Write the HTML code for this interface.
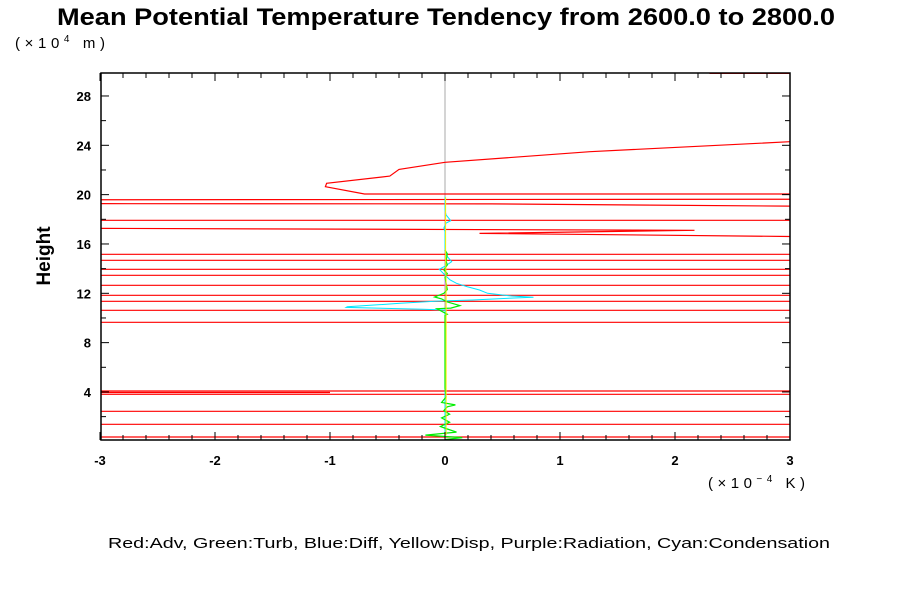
<!DOCTYPE html>
<html><head><meta charset="utf-8"><style>
html,body{margin:0;padding:0;background:#fff;}
svg{display:block;font-family:"Liberation Sans",sans-serif;}
</style></head><body>
<svg id="chart" width="900" height="600" viewBox="0 0 900 600">
<text x="446" y="25" text-anchor="middle" font-size="24" font-weight="bold" textLength="778" lengthAdjust="spacingAndGlyphs">Mean Potential Temperature Tendency from 2600.0 to 2800.0</text>
<text x="15" y="48" font-size="15" textLength="90">(×10<tspan dy="-6" font-size="10">4</tspan><tspan dy="6"> m)</tspan></text>
<text x="708" y="488" font-size="15" textLength="97">(×10<tspan dy="-6" font-size="10">−4</tspan><tspan dy="6"> K)</tspan></text>
<text transform="translate(50,256) rotate(-90)" text-anchor="middle" font-size="19" font-weight="bold">Height</text>
<text x="469" y="548" text-anchor="middle" font-size="15" textLength="722" lengthAdjust="spacingAndGlyphs">Red:Adv, Green:Turb, Blue:Diff, Yellow:Disp, Purple:Radiation, Cyan:Condensation</text>
<defs><clipPath id="plotclip"><rect x="101" y="72" width="689" height="368"/></clipPath></defs>
<g id="series" clip-path="url(#plotclip)"></g>
<g id="axes"></g>
</svg>
<script>
const xTicks = [-3,-2,-1,0,1,2,3];
const yTicks = [4,8,12,16,20,24,28];
const redSeries = [[6,24.5],[3,24.29],[1.26,23.48],[0,22.62],[-0.40,22.05],[-0.48,21.5],[-1.03,20.92],[-1.04,20.64],[-0.70,20.05],[8,20.05],[8,19.66],[-8,19.55],[-8,19.3],[0.4,19.25],[8,18.72],[8,17.92],[-8,17.92],[-8,17.42],[2.17,17.11],[0.30,16.86],[8,16.14],[8,15.16],[-8,15.16],[-8,14.68],[8,14.68],[8,13.95],[-8,13.95],[-8,13.46],[8,13.46],[8,12.65],[-8,12.65],[-8,11.84],[8,11.84],[8,11.35],[-8,11.35],[-8,10.62],[8,10.62],[8,9.65],[-8,9.65],[-8,3.97],[-1.0,3.96],[-8,3.95],[-8,4.08],[8,4.08],[8,3.81],[-8,3.81],[-8,2.43],[8,2.43],[8,1.38],[-8,1.38],[-8,0.35],[8,0.35]];
const redTopSeries = [[2.3,29.85],[6,29.85]];
const cyanSeries = [[0,0.1],[0,10.65],[-0.19,10.70],[-0.86,10.86],[-0.85,10.91],[-0.65,11.03],[-0.39,11.19],[-0.05,11.38],[0.24,11.46],[0.60,11.62],[0.77,11.68],[0.58,11.78],[0.37,12.0],[0.30,12.27],[0.19,12.54],[0.10,12.81],[0.045,13.08],[0,13.48],[-0.05,13.95],[0,14.2],[0.058,14.56],[0.01,15.1],[0,15.67],[0,17.0],[-0.01,17.3],[0.01,17.7],[0.05,17.89],[0.01,18.35],[0,18.75],[0,19.8]];
const greenSeries = [[0,0.15],[0.15,0.3],[-0.17,0.5],[0.1,0.75],[0.02,1.0],[-0.04,1.2],[0.04,1.55],[-0.03,1.9],[0.04,2.2],[-0.01,2.5],[0.02,2.8],[0.09,2.95],[-0.03,3.15],[0.01,3.6],[0,4.3],[0,10.2],[0.02,10.3],[-0.02,10.5],[-0.07,10.75],[0.05,10.8],[0.13,11.0],[0.02,11.3],[-0.03,11.55],[-0.09,11.7],[-0.01,12.0],[0.02,12.3],[0.01,12.8],[0,13.3],[0.02,13.6],[-0.01,13.9],[0.02,14.3],[0.01,14.6],[0.02,15.2],[0,15.5]];
const yellowSeries = [[0.01,0.5],[0.01,4.0],[0.01,10.4],[0.01,13.0],[0.005,15.0],[0.005,19.8]];
const purpleSeries = [[0,12.6],[0,13.4]];

const X0=101,X1=790,Y0=440,Y1=73;
function sx(v){return 445+v*115;}
function sy(v){return 441.3-v*12.333;}
const NS="http://www.w3.org/2000/svg";
const series=document.getElementById('series');
const axes=document.getElementById('axes');
function poly(data,color,w,name){
  const p=document.createElementNS(NS,'polyline');
  p.setAttribute('points',data.map(d=>sx(d[0]).toFixed(1)+','+sy(d[1]).toFixed(1)).join(' '));
  p.setAttribute('fill','none');p.setAttribute('stroke',color);p.setAttribute('stroke-width',w);
  
  
  series.appendChild(p);
}
const zl=document.createElementNS(NS,'line');
zl.setAttribute('x1',sx(0));zl.setAttribute('x2',sx(0));zl.setAttribute('y1',Y1);zl.setAttribute('y2',Y0);
zl.setAttribute('stroke','#aaa');zl.setAttribute('stroke-width','1');


series.appendChild(zl);
poly(redSeries,'#ff0000',1.2,'adv-line');
poly(redTopSeries,'#ff0000',1.5,'adv-line-top');
poly(cyanSeries,'#00e5ff',1,'condensation-line');
poly(purpleSeries,'#c080ff',1,'radiation-line');
poly(greenSeries,'#00ee00',1.2,'turb-line');
poly(yellowSeries,'#ffee00',1,'disp-line');

function line(x1,y1,x2,y2,w,name){
  const l=document.createElementNS(NS,'line');
  l.setAttribute('x1',x1);l.setAttribute('y1',y1);l.setAttribute('x2',x2);l.setAttribute('y2',y2);
  l.setAttribute('stroke','#000');l.setAttribute('stroke-width',w);
  
  
  axes.appendChild(l);
}
function text(x,y,s,name){
  const t=document.createElementNS(NS,'text');
  t.setAttribute('x',x);t.setAttribute('y',y);t.setAttribute('font-size','13');t.setAttribute('font-weight','bold');
  t.setAttribute('text-anchor',name.startsWith('x')?'middle':'end');
  t.textContent=s;
  
  
  axes.appendChild(t);
}
const fr=document.createElementNS(NS,'rect');
fr.setAttribute('x',X0);fr.setAttribute('y',Y1);fr.setAttribute('width',X1-X0);fr.setAttribute('height',Y0-Y1);
fr.setAttribute('fill','none');fr.setAttribute('stroke','#000');fr.setAttribute('stroke-width','1.5');


axes.appendChild(fr);
for(let i=-15;i<=15;i++){
  const v=i/5, x=sx(v), major=(i%5===0), L=major?8:5;
  line(x,Y0,x,Y0-L,1,'x-tick');line(x,Y1,x,Y1+L,1,'x-tick-top');
}
xTicks.forEach(v=>text(sx(v),465,String(v),'x-tick-label'));
for(let v=2;v<=28;v+=2){
  const y=sy(v), major=(v%4===0), L=major?8:5;
  line(X0,y,X0+L,y,1,'y-tick');line(X1,y,X1-L,y,1,'y-tick-right');
}
yTicks.forEach(v=>text(91,sy(v)+5,String(v),'y-tick-label'));
</script>
</body></html>
